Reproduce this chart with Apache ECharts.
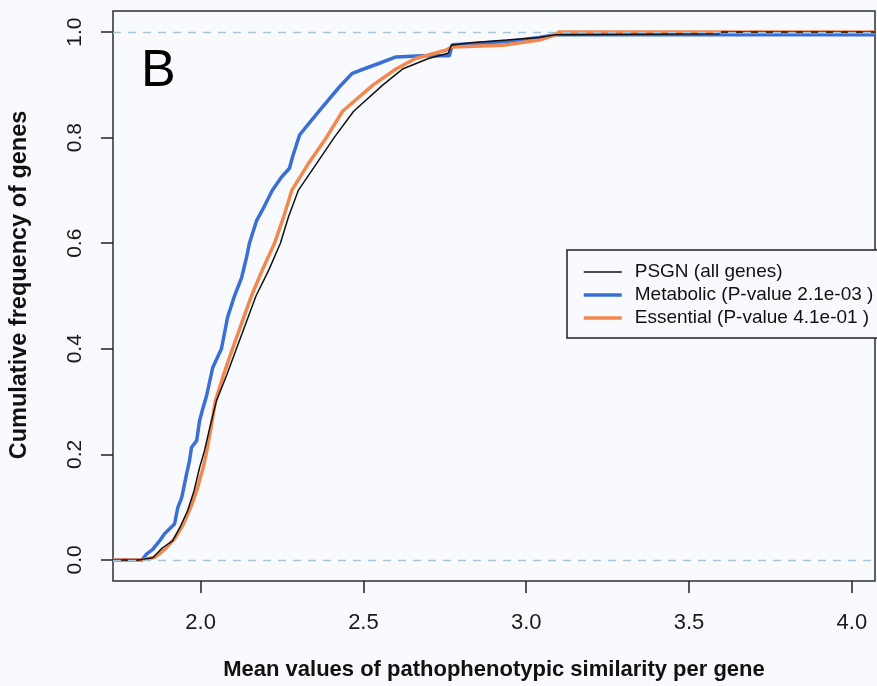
<!DOCTYPE html>
<html>
<head>
<meta charset="utf-8">
<script src="https://cdn.jsdelivr.net/npm/echarts@6/dist/echarts.min.js"></script>
<style>
html,body{margin:0;padding:0;background:#f9fafd;}
#c{width:877px;height:686px;}
</style>
</head>
<body>
<div id="c"></div>
<script>
// ---- data ----
const xTicks = [2.0, 2.5, 3.0, 3.5, 4.0];
const yTicks = [0.0, 0.2, 0.4, 0.6, 0.8, 1.0];
const seriesNames = ['PSGN (all genes)', 'Metabolic (P-value 2.1e-03 )', 'Essential (P-value 4.1e-01 )'];

const psgnX = [1.731, 1.81, 1.853, 1.883, 1.914, 1.936, 1.96, 1.98, 1.997, 2.012, 2.028, 2.049, 2.08, 2.11, 2.14, 2.17, 2.21, 2.245, 2.27, 2.30, 2.355, 2.41, 2.47, 2.56, 2.62, 2.70, 2.76, 2.77, 2.83, 2.94, 3.04, 3.09, 3.59, 3.60, 4.071];
const psgnY = [0, 0, 0.004, 0.023, 0.036, 0.061, 0.093, 0.131, 0.175, 0.207, 0.25, 0.302, 0.35, 0.40, 0.45, 0.50, 0.55, 0.60, 0.65, 0.70, 0.75, 0.80, 0.85, 0.90, 0.93, 0.95, 0.96, 0.975, 0.98, 0.985, 0.99, 0.995, 0.997, 1.0, 1.0];

const metabX = [1.731, 1.82, 1.834, 1.853, 1.874, 1.89, 1.905, 1.92, 1.93, 1.942, 1.957, 1.966, 1.972, 1.988, 1.997, 2.006, 2.018, 2.037, 2.064, 2.083, 2.104, 2.126, 2.141, 2.15, 2.172, 2.19, 2.22, 2.248, 2.273, 2.282, 2.304, 2.334, 2.374, 2.426, 2.466, 2.509, 2.549, 2.60, 2.68, 2.764, 2.773, 2.83, 2.94, 3.04, 3.09, 4.071];
const metabY = [0, 0, 0.011, 0.02, 0.036, 0.05, 0.059, 0.068, 0.099, 0.118, 0.163, 0.188, 0.213, 0.226, 0.264, 0.285, 0.31, 0.364, 0.40, 0.46, 0.50, 0.535, 0.573, 0.60, 0.643, 0.663, 0.70, 0.725, 0.742, 0.763, 0.805, 0.828, 0.858, 0.896, 0.922, 0.932, 0.941, 0.953, 0.955, 0.955, 0.976, 0.978, 0.982, 0.99, 0.995, 0.995];

const essX = [1.731, 1.82, 1.86, 1.89, 1.92, 1.945, 1.97, 1.99, 2.008, 2.02, 2.032, 2.045, 2.07, 2.098, 2.127, 2.156, 2.19, 2.227, 2.255, 2.28, 2.33, 2.386, 2.436, 2.53, 2.60, 2.66, 2.755, 2.77, 2.93, 3.04, 3.09, 3.10, 4.071];
const essY = [0, 0, 0.005, 0.02, 0.04, 0.065, 0.10, 0.135, 0.175, 0.21, 0.25, 0.30, 0.35, 0.40, 0.45, 0.50, 0.55, 0.60, 0.65, 0.70, 0.75, 0.80, 0.85, 0.90, 0.93, 0.95, 0.966, 0.972, 0.975, 0.985, 0.995, 1.0, 1.0];

const refLines = [0, 1];

function pairs(xs, ys){ return xs.map((x,i)=>[x, ys[i]]); }

const FONT = '"Liberation Sans", Arial, Helvetica, sans-serif';
const COLORS = { psgn: '#111111', metab: '#3a6fd8', ess: '#f3884f' };
const chart = echarts.init(document.getElementById('c'), null, {renderer:'canvas'});
chart.setOption({
  backgroundColor: '#f9fafd',
  animation: false,
  grid: { left: 113, right: 2, top: 11, bottom: 105, show: true, borderColor: '#2a3030', borderWidth: 1.5, backgroundColor: 'transparent' },
  xAxis: {
    type: 'value', min: 1.731, max: 4.071,
    name: 'Mean values of pathophenotypic similarity per gene',
    nameLocation: 'middle', nameGap: 78,
    nameTextStyle: { fontFamily: FONT, fontSize: 22, fontWeight: 'bold', color: '#111' },
    axisLine: { show: false, onZero: false },
    axisTick: { show: true, customValues: xTicks, length: 12, lineStyle: { color: '#222', width: 1.5 } },
    axisLabel: { customValues: xTicks, fontFamily: FONT, fontSize: 22, color: '#1a1a1a', margin: 31, formatter: v => v.toFixed(1) },
    splitLine: { show: false }
  },
  yAxis: {
    type: 'value', min: -0.04, max: 1.04,
    axisLine: { show: false, onZero: false },
    axisTick: { show: true, customValues: yTicks, length: 12, lineStyle: { color: '#222', width: 1.5 } },
    axisLabel: { customValues: yTicks, rotate: 90, fontFamily: FONT, fontSize: 21, color: '#1a1a1a', margin: 27, formatter: v => v.toFixed(1) },
    splitLine: { show: false }
  },
  legend: {
    orient: 'vertical', left: 567, top: 250,
    data: [
      { name: seriesNames[0], lineStyle: { width: 1.5, color: COLORS.psgn } },
      { name: seriesNames[1], lineStyle: { width: 3.5, color: COLORS.metab } },
      { name: seriesNames[2], lineStyle: { width: 3.5, color: COLORS.ess } }
    ],
    backgroundColor: '#f9fafd', borderColor: '#222', borderWidth: 1.5, borderRadius: 0,
    padding: [12, 12, 10, 15],
    itemWidth: 38, itemHeight: 14, itemGap: 3,
    itemStyle: { color: 'rgba(0,0,0,0)', borderColor: 'rgba(0,0,0,0)', borderWidth: 0, opacity: 0 },
    textStyle: { fontFamily: FONT, fontSize: 19, color: '#111', lineHeight: 20, padding: [0,0,0,8] }
  },
  graphic: [{
    type: 'text', left: 141, top: 46,
    style: { text: 'B', font: '52px ' + FONT, fill: '#000' }
  }, {
    type: 'text', x: 20, y: 285, rotation: Math.PI / 2,
    style: { text: 'Cumulative frequency of genes', font: 'bold 23.5px ' + FONT, fill: '#111', align: 'center', verticalAlign: 'middle' }
  }],
  series: [
    { name: seriesNames[1], type: 'line', data: pairs(metabX, metabY), symbol: 'none', showSymbol: false,
      lineStyle: { color: COLORS.metab, width: 3.5 }, itemStyle: { color: COLORS.metab }, z: 2 },
    { name: seriesNames[2], type: 'line', data: pairs(essX, essY), symbol: 'none', showSymbol: false,
      lineStyle: { color: COLORS.ess, width: 3.5 }, itemStyle: { color: COLORS.ess }, z: 3 },
    { name: seriesNames[0], type: 'line', data: pairs(psgnX, psgnY), symbol: 'none', showSymbol: false,
      lineStyle: { color: COLORS.psgn, width: 1.5 }, itemStyle: { color: COLORS.psgn }, z: 4 },
    { name: 'ref', type: 'line', data: [], z: 5,
      markLine: { symbol: 'none', silent: true, label: { show: false },
        lineStyle: { color: '#a6c6dd', type: [8, 7], width: 1.4 },
        data: refLines.map(v => ({ yAxis: v })) } }
  ]
});
</script>
</body>
</html>
